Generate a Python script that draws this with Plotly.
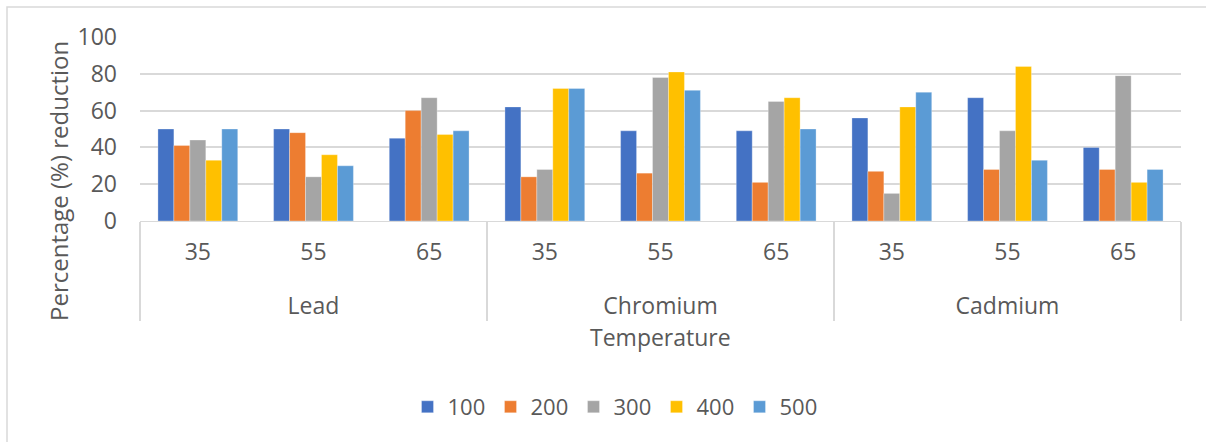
import plotly.graph_objects as go

metals = ["Lead", "Chromium", "Cadmium"]
temperatures = ["35", "55", "65"]
series_names = ["100", "200", "300", "400", "500"]
colors = ["#4472C4", "#ED7D31", "#A5A5A5", "#FFC000", "#5B9BD5"]

# values per series, ordered Lead35, Lead55, Lead65, Cr35, Cr55, Cr65, Cd35, Cd55, Cd65
s100 = [50, 50, 45, 62, 49, 49, 56, 67, 40]
s200 = [41, 48, 60, 24, 26, 21, 27, 28, 28]
s300 = [44, 24, 67, 28, 78, 65, 15, 49, 79]
s400 = [33, 36, 47, 72, 81, 67, 62, 84, 21]
s500 = [50, 30, 49, 72, 71, 50, 70, 33, 28]
series_values = [s100, s200, s300, s400, s500]

# outer level label pushed down one line to mimic the spacing of the reference
lvl1 = ["<br>" + m for m in metals for _ in temperatures]
lvl2 = [t for _ in metals for t in temperatures]

FONT = "Open Sans"
TXT = "#595959"
GRID = "#D9D9D9"
FS = 23

fig = go.Figure()
for name, vals, col in zip(series_names, series_values, colors):
    fig.add_trace(go.Bar(
        x=[lvl1, lvl2], y=vals, name=name,
        marker=dict(color=col, line=dict(color="rgba(255,255,255,0.5)", width=0.6)),
    ))

L, R, T, B = 140, 25, 37, 221
W, H = 1206, 442
ph = H - T - B
pw = W - L - R
bottom = T + ph  # pixel y of plot bottom


def py(p):
    return (bottom - p) / ph


def px(p):
    return (p - L) / pw


fig.update_layout(
    width=W, height=H,
    margin=dict(l=L, r=R, t=T, b=B, pad=0),
    paper_bgcolor="white", plot_bgcolor="white",
    barmode="group", bargap=0.31, bargroupgap=0,
    font=dict(family=FONT, color=TXT, size=FS),
    showlegend=True,
    legend=dict(
        orientation="h", x=px(615), xanchor="center",
        y=py(407), yanchor="middle",
        font=dict(size=22, color=TXT), itemwidth=30,
        entrywidth=38, entrywidthmode="pixels",
        traceorder="normal", bgcolor="rgba(0,0,0,0)",
    ),
    xaxis=dict(
        type="multicategory", showgrid=False, showline=True, linecolor=GRID, linewidth=1,
        showdividers=True, dividercolor=GRID, dividerwidth=1.5,
        tickfont=dict(size=FS, color=TXT),
        ticks="", ticklabelstandoff=10,
    ),
    yaxis=dict(
        range=[0, 100], dtick=20, showgrid=True, gridcolor=GRID, gridwidth=1.5,
        zeroline=False, showline=False, ticks="", ticklabelstandoff=22,
        tickfont=dict(size=FS, color=TXT),
    ),
)

fig.add_annotation(
    text="Percentage (%) reduction", textangle=-90,
    xref="paper", yref="paper", x=px(58), y=py(181),
    xanchor="center", yanchor="middle", showarrow=False,
    font=dict(size=24, color=TXT, family=FONT),
)

fig.add_annotation(
    text="Temperature",
    xref="paper", yref="paper", x=0.5, y=py(337),
    xanchor="center", yanchor="middle", showarrow=False,
    font=dict(size=FS, color=TXT, family=FONT),
)

fig.add_shape(
    type="rect", xref="paper", yref="paper",
    x0=px(7), x1=px(W + 20), y0=py(H + 20), y1=py(7),
    line=dict(color=GRID, width=1.5), fillcolor="rgba(0,0,0,0)", layer="below",
)

fig.write_html("out.html")
